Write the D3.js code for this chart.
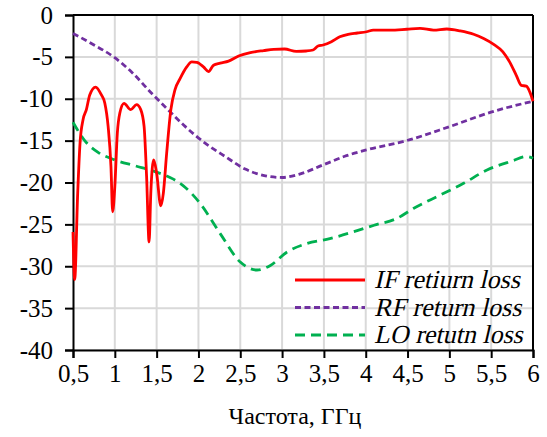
<!DOCTYPE html>
<html lang="ru">
<head>
<meta charset="UTF-8">
<script src="https://d3js.org/d3.v7.min.js"></script>
<title>Return loss</title>
<style>
  body { margin: 0; background: #fff; }
  text { font-family: "Liberation Serif", serif; fill: #000; }
</style>
</head>
<body>
<script>
// frequency, GHz and return loss, dB
var ifFreq = [0.50, 0.52, 0.556, 0.584, 0.62, 0.66, 0.70, 0.77, 0.84, 0.88, 0.92, 0.954, 0.974, 1.0, 1.03, 1.06, 1.11, 1.19, 1.26, 1.31, 1.35, 1.38, 1.41, 1.43, 1.465, 1.50, 1.55, 1.58, 1.62, 1.67, 1.72, 1.78, 1.86, 1.92, 1.98, 2.06, 2.12, 2.18, 2.26, 2.36, 2.48, 2.62, 2.78, 2.90, 3.03, 3.17, 3.29, 3.37, 3.43, 3.49, 3.59, 3.69, 3.79, 3.90, 4.01, 4.09, 4.29, 4.49, 4.65, 4.81, 4.97, 5.13, 5.29, 5.41, 5.53, 5.64, 5.72, 5.80, 5.86, 5.92, 5.96, 6.0];
var ifLoss = [-25.9, -31.6, -21.3, -15.3, -12.5, -11.3, -9.55, -8.6, -9.55, -10.5, -13.3, -18.1, -23.5, -20.5, -14.1, -11.7, -10.55, -11.3, -10.7, -11.3, -13.3, -19.3, -27.1, -21.3, -17.3, -18.9, -22.8, -21.3, -16.5, -11.3, -8.9, -7.6, -6.2, -5.6, -5.65, -6.2, -6.75, -6.0, -5.75, -5.5, -4.9, -4.5, -4.25, -4.1, -4.06, -4.35, -4.3, -4.18, -3.7, -3.58, -3.18, -2.6, -2.3, -2.15, -2.0, -1.8, -1.8, -1.7, -1.6, -1.8, -1.67, -1.9, -2.3, -2.8, -3.5, -4.4, -5.6, -7.2, -8.4, -8.5, -9.15, -10.3];

var rfFreq = [0.5, 0.72, 1.0, 1.2, 1.44, 1.6, 1.84, 2.08, 2.32, 2.56, 2.80, 3.0, 3.21, 3.49, 3.77, 4.01, 4.49, 5.01, 5.53, 6.0];
var rfLoss = [-2.2, -3.4, -5.1, -6.8, -9.35, -10.95, -13.3, -15.3, -16.9, -18.4, -19.2, -19.4, -19.0, -17.9, -16.8, -16.1, -15.0, -13.3, -11.5, -10.3];

var loFreq = [0.5, 0.64, 0.80, 1.0, 1.24, 1.48, 1.70, 1.82, 2.02, 2.26, 2.50, 2.70, 2.86, 3.06, 3.29, 3.57, 3.85, 4.1, 4.37, 4.57, 4.89, 5.17, 5.45, 5.76, 5.92, 6.0];
var loLoss = [-12.8, -15.0, -16.4, -17.3, -18.0, -18.7, -19.6, -20.4, -22.5, -26.1, -29.5, -30.45, -29.9, -28.3, -27.3, -26.7, -25.9, -25.1, -24.3, -23.1, -21.5, -20.1, -18.5, -17.4, -16.9, -17.1];

var xTicks = [0.5, 1, 1.5, 2, 2.5, 3, 3.5, 4, 4.5, 5, 5.5, 6];
var yTicks = [0, -5, -10, -15, -20, -25, -30, -35, -40];
var seriesNames = ["IF retiurn loss", "RF return loss", "LO retutn loss"];
var xTitle = "Частота, ГГц";

var width = 547, height = 437;
var margin = { top: 15, right: 14, bottom: 87, left: 73 };
var w = width - margin.left - margin.right;
var h = height - margin.top - margin.bottom;

var svg = d3.select("body").append("svg")
  .attr("width", width)
  .attr("height", height);

var g = svg.append("g")
  .attr("transform", "translate(" + margin.left + "," + margin.top + ")");

var x = d3.scaleLinear().domain([0.5, 6]).range([0, w]);
var y = d3.scaleLinear().domain([-40, 0]).range([h, 0]);

// grid
g.append("g").selectAll("line")
  .data(xTicks.slice(1))
  .enter().append("line")
  .attr("x1", d => x(d)).attr("x2", d => x(d))
  .attr("y1", 0).attr("y2", h)
  .attr("stroke", "#d9d9d9").attr("stroke-width", 2);

g.append("g").selectAll("line")
  .data(yTicks.slice(1))
  .enter().append("line")
  .attr("x1", 0).attr("x2", w)
  .attr("y1", d => y(d)).attr("y2", d => y(d))
  .attr("stroke", "#d9d9d9").attr("stroke-width", 2);

// frame top/right
g.append("line").attr("x1", 0).attr("x2", w).attr("y1", 0).attr("y2", 0)
  .attr("stroke", "#000").attr("stroke-width", 2);
g.append("line").attr("x1", w).attr("x2", w).attr("y1", 0).attr("y2", h)
  .attr("stroke", "#000").attr("stroke-width", 2);

var fmt = function (d) { return String(d).replace(".", ","); };

var xAxis = g.append("g")
  .attr("transform", "translate(0," + h + ")")
  .call(d3.axisBottom(x).tickValues(xTicks).tickFormat(fmt).tickSize(8).tickPadding(6));

var yAxis = g.append("g")
  .call(d3.axisLeft(y).tickValues(yTicks).tickFormat(d => d === 0 ? "0" : "-" + Math.abs(d)).tickSize(8).tickPadding(12));

[xAxis, yAxis].forEach(function (a) {
  a.attr("font-family", null).attr("font-size", null);
  a.select(".domain").attr("stroke", "#000").attr("stroke-width", 2);
  a.selectAll(".tick line").attr("stroke", "#000").attr("stroke-width", 2);
  a.selectAll(".tick text")
    .style("font-family", "'Liberation Serif'")
    .style("font-size", "25px")
    .attr("fill", "#000");
});

var line = d3.line()
  .x(d => x(d[0]))
  .y(d => y(d[1]))
  .curve(d3.curveMonotoneX);

var series = [
  { name: seriesNames[0], pts: d3.zip(ifFreq, ifLoss), color: "#ff0000", dash: null },
  { name: seriesNames[1], pts: d3.zip(rfFreq, rfLoss), color: "#7030a0", dash: "6,3.5" },
  { name: seriesNames[2], pts: d3.zip(loFreq, loLoss), color: "#00b050", dash: "10,6" }
];

// draw LO first, then RF, then IF on top
series.slice().reverse().forEach(function (s) {
  g.append("path")
    .datum(s.pts)
    .attr("fill", "none")
    .attr("stroke", s.color)
    .attr("stroke-width", 2.8)
    .attr("stroke-dasharray", s.dash)
    .attr("d", line);
});

// legend (italic serif face is missing, so slant the regular one)
var legend = svg.append("g").attr("transform", "translate(295,280)");
series.forEach(function (s, i) {
  var row = legend.append("g").attr("transform", "translate(0," + (i * 27.5) + ")");
  row.append("line")
    .attr("x1", 0).attr("x2", 70)
    .attr("y1", 0).attr("y2", 0)
    .attr("stroke", s.color)
    .attr("stroke-width", 2.8)
    .attr("stroke-dasharray", s.dash);
  row.append("text")
    .attr("transform", "translate(79,8) skewX(-13)")
    .style("font-family", "'Liberation Serif'")
    .style("font-size", "26px")
    .text(s.name);
});

// axis title
svg.append("text")
  .attr("x", 295).attr("y", 424)
  .attr("text-anchor", "middle")
  .style("font-family", "'Liberation Serif'")
  .style("font-size", "24px")
  .text(xTitle);
</script>
</body>
</html>
